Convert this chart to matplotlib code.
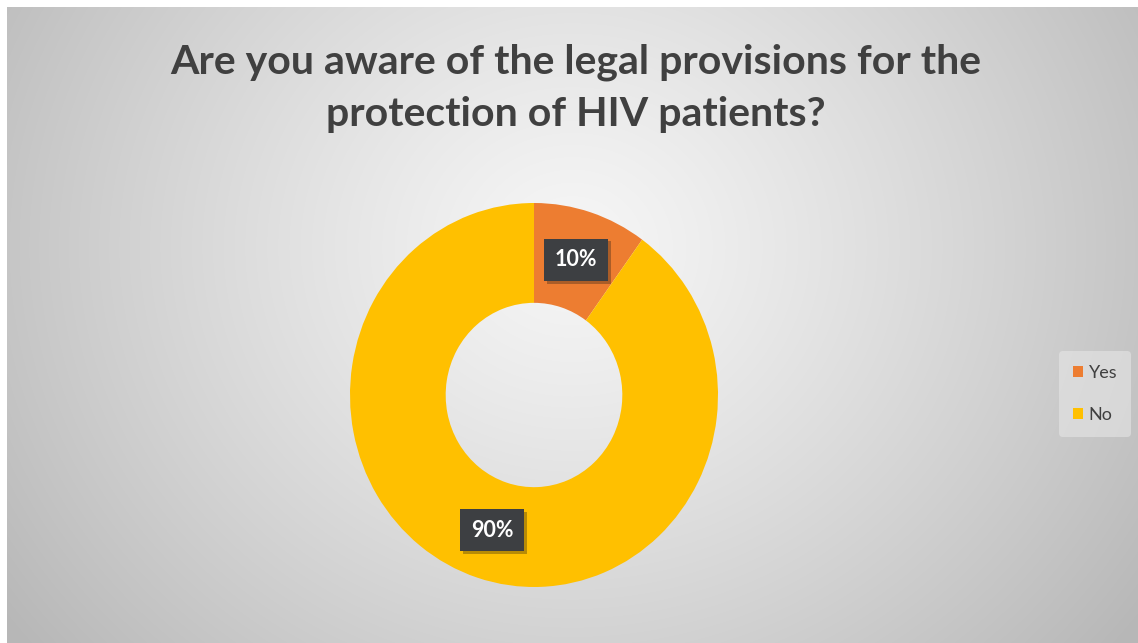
import numpy as np
import matplotlib.pyplot as plt
import matplotlib.patheffects as pe

labels = ['Yes', 'No']
values = [10, 90]
colors = ['#ED7D31', '#FFC000']
title = 'Are you aware of the legal provisions for the\nprotection of HIV patients?'

W, H = 1138, 643
fig = plt.figure(figsize=(W / 100, H / 100), dpi=100, facecolor='white')

# radial grey backdrop of the chart area
bg = fig.add_axes([7 / W, 0, (W - 7) / W, (H - 7) / H])
bg.set_axis_off()
yy, xx = np.mgrid[0:H - 7, 0:W - 7]
d = np.hypot((xx - 565) / 1.0, (yy - 240) / 0.9)
d = np.clip(d / 700, 0, 1)
light, dark = 0.965, 0.72
shade = light - (light - dark) * d ** 1.2
bg.imshow(np.dstack([shade] * 3), aspect='auto', extent=(0, 1, 0, 1), origin='upper')
bg.set_xlim(0, 1)
bg.set_ylim(0, 1)

fig.text(576 / W, 1 - 88 / H, title, ha='center', va='center', fontsize=29.5,
         fontweight='bold', color='#404040', family='Lato', linespacing=1.5)

# donut, slightly taller than wide
cx, cy, rx, ry = 534, 395, 184, 192
ax = fig.add_axes([(cx - rx) / W, (H - cy - ry) / H, 2 * rx / W, 2 * ry / H])
wedges, _ = ax.pie(values, colors=colors, startangle=90, counterclock=False,
                   radius=1, wedgeprops=dict(width=0.52, linewidth=0))
ax.set_aspect('auto')
ax.set_xlim(-1, 1)
ax.set_ylim(-1, 1)
ax.set_axis_off()

start = 90.0
total = sum(values)
for v in values:
    span = 360.0 * v / total
    mid = np.deg2rad(start - span / 2)
    start -= span
    r = 0.74
    x, y = r * np.cos(mid), r * np.sin(mid)
    t = ax.text(x, y, f'{v}%', ha='center', va='center', fontsize=15.5,
                fontweight='bold', color='white', family='Lato',
                bbox=dict(boxstyle='square,pad=0.5', fc='#3d3f42', ec='none'))
    t.get_bbox_patch().set_path_effects(
        [pe.SimplePatchShadow(offset=(2, -2), alpha=0.3), pe.Normal()])

leg = fig.legend(wedges, labels, loc='center', bbox_to_anchor=(1095 / W, 1 - 394 / H),
                 frameon=True, handlelength=0.6, handleheight=0.6, handletextpad=0.3,
                 labelspacing=1.45, borderpad=0.75,
                 prop=dict(family='Lato', size=13))
leg.get_frame().set_facecolor('#e6e6e6')
leg.get_frame().set_edgecolor('none')
leg.get_frame().set_alpha(0.6)
for t in leg.get_texts():
    t.set_color('#404040')

fig.savefig('out.png', dpi=100, facecolor='white')
